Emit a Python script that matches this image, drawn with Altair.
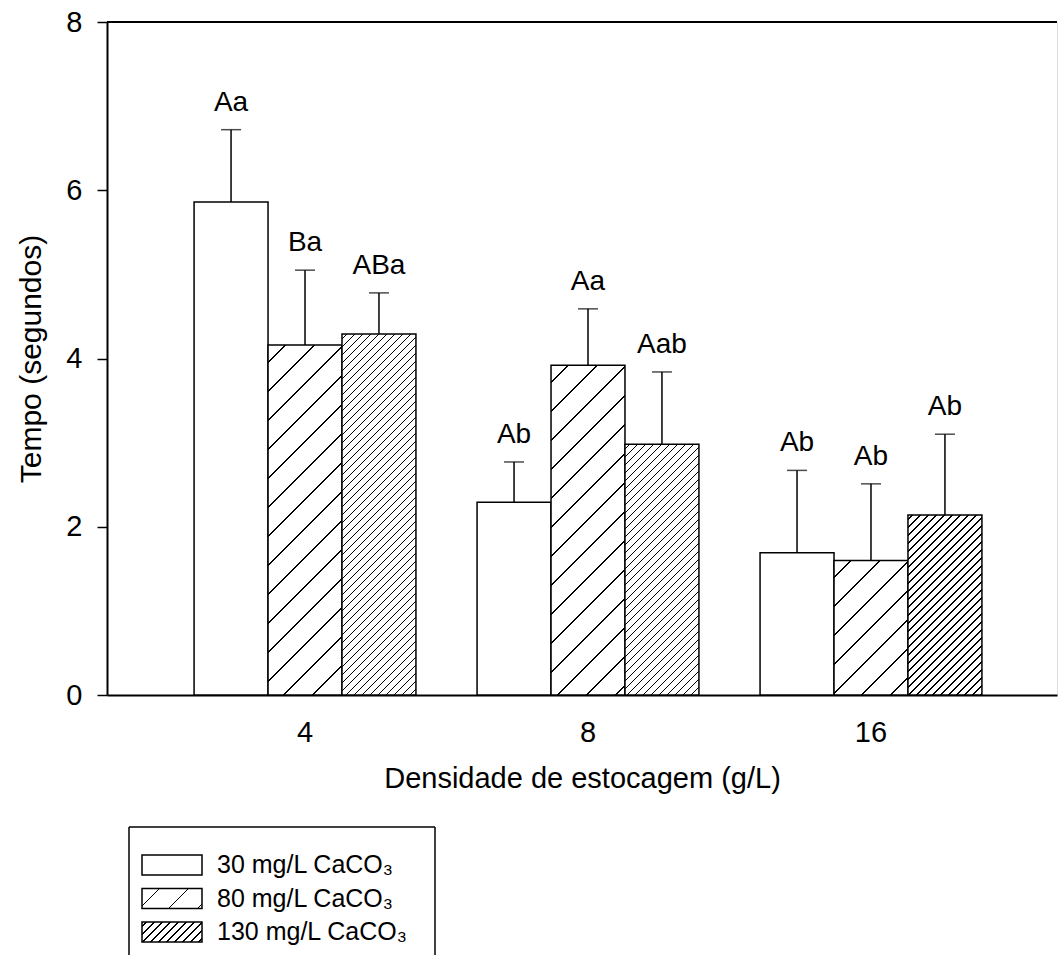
import altair as alt

# ---------------- data ----------------
density = ["4", "8", "16"]
series = ["30 mg/L CaCO₃", "80 mg/L CaCO₃", "130 mg/L CaCO₃"]
mean_30 = [5.86, 2.29, 1.69]
mean_80 = [4.16, 3.92, 1.60]
mean_130 = [4.29, 2.98, 2.14]
sd_30 = [0.86, 0.48, 0.98]
sd_80 = [0.89, 0.67, 0.91]
sd_130 = [0.49, 0.86, 0.96]
letters_30 = ["Aa", "Ab", "Ab"]
letters_80 = ["Ba", "Aa", "Ab"]
letters_130 = ["ABa", "Aab", "Ab"]

means = [mean_30, mean_80, mean_130]
sds = [sd_30, sd_80, sd_130]
letters = [letters_30, letters_80, letters_130]

# ---------------- layout / style ----------------
FONT = "Liberation Sans"
W, H = 950, 673
YMAX = 8
P_IN, P_OUT, ALIGN = 0.216, 0.2865, 0.537
step = W / (len(density) - P_IN + 2 * P_OUT)
bar_w = step * (1 - P_IN) / len(series)
px_per_unit = H / YMAX
hatch_spacing = [None, 29, 8]


def hatch(w, h, spacing, lw=1.2):
    """45-degree hatch as a linear gradient with hard stops (bbox units)."""
    if spacing is None or h <= 0:
        return "white"
    L = w + h
    a, b = 1.0 / h, 1.0 / w
    c = (a + b) / (a * a + b * b)
    half = lw * 2 ** 0.5 / 2
    stops = [{"offset": 0, "color": "white"}]
    s = spacing * 0.6
    while s < L:
        o1 = max(0.0, (s - half) / L)
        o2 = min(1.0, (s + half) / L)
        stops += [
            {"offset": o1, "color": "white"},
            {"offset": o1, "color": "black"},
            {"offset": o2, "color": "black"},
            {"offset": o2, "color": "white"},
        ]
        s += spacing
    stops.append({"offset": 1, "color": "white"})
    return {"gradient": "linear", "x1": 0, "y1": 0, "x2": c * a, "y2": c * b, "stops": stops}


rows = []
for gi, d in enumerate(density):
    for si, s in enumerate(series):
        m = means[si][gi]
        rows.append({
            "density": d,
            "series": s,
            "mean": m,
            "upper": m + sds[si][gi],
            "letter": letters[si][gi],
            "pattern": hatch(bar_w, m * px_per_unit, hatch_spacing[si]),
        })
data = alt.Data(values=rows)

x_enc = alt.X(
    "density:N",
    sort=density,
    scale=alt.Scale(paddingInner=P_IN, paddingOuter=P_OUT, align=ALIGN),
    axis=alt.Axis(
        title="Densidade de estocagem (g/L)",
        labelAngle=0, ticks=False, tickSize=0, labelPadding=23,
        labelFontSize=29, titleFontSize=29, titlePadding=17,
        titleFontWeight="normal",
        domainWidth=2, domainColor="black",
    ),
)
xo_enc = alt.XOffset("series:N", sort=series, scale=alt.Scale(paddingInner=0, paddingOuter=0))
y_scale = alt.Scale(domain=[0, YMAX], nice=False)
y_enc = alt.Y(
    "mean:Q",
    scale=y_scale,
    axis=alt.Axis(
        title="Tempo (segundos)", values=[0, 2, 4, 6, 8], format="d", grid=False,
        tickSize=10, tickWidth=1.5, tickColor="black", labelPadding=15,
        labelFontSize=29, titleFontSize=30, titlePadding=19,
        titleFontWeight="normal",
        domainWidth=2, domainColor="black",
    ),
)

base = alt.Chart(data)
bars = base.mark_bar(stroke="black", strokeWidth=1.5).encode(
    x=x_enc, xOffset=xo_enc, y=y_enc, fill=alt.Fill("pattern:N", scale=None)
)
err = base.mark_rule(color="black", strokeWidth=1.5).encode(
    x=x_enc, xOffset=xo_enc, y=alt.Y("mean:Q", scale=y_scale), y2="upper:Q"
)
cap = base.mark_tick(color="black", thickness=1.5, size=20).encode(
    x=x_enc, xOffset=xo_enc, y=alt.Y("upper:Q", scale=y_scale)
)
labels = base.mark_text(fontSize=28, dy=-19, baseline="alphabetic", font=FONT, color="black").encode(
    x=x_enc, xOffset=xo_enc, y=alt.Y("upper:Q", scale=y_scale), text="letter:N"
)
one = alt.Data(values=[{"k": 0}])
top_line = alt.Chart(one).mark_rule(color="black", strokeWidth=2).encode(
    x=alt.value(0), x2=alt.value(W), y=alt.value(0)
)
main = alt.layer(bars, err, cap, labels, top_line)

# ---------------- legend (drawn below the plot) ----------------
leg_rows = [{"series": s, "pattern": hatch(60, 20, hatch_spacing[i])} for i, s in enumerate(series)]
leg = alt.Chart(alt.Data(values=leg_rows))
ly = alt.Y(
    "series:N", sort=series, axis=None,
    scale=alt.Scale(domain=series, range=[833, 920], paddingInner=0.403, paddingOuter=0),
)
swatch = leg.mark_rect(stroke="black", strokeWidth=1.5).encode(
    x=alt.value(35), x2=alt.value(95), y=ly, fill=alt.Fill("pattern:N", scale=None)
)
leg_text = leg.mark_text(align="left", baseline="middle", fontSize=25, font=FONT, color="black").encode(
    x=alt.value(110), y=ly, text="series:N"
)
frame_top = alt.Chart(one).mark_rule(color="black", strokeWidth=1.5).encode(
    x=alt.value(22), x2=alt.value(328), y=alt.value(805)
)
frame_left = alt.Chart(one).mark_rule(color="black", strokeWidth=1.5).encode(
    x=alt.value(22), y=alt.value(805), y2=alt.value(933)
)
frame_right = alt.Chart(one).mark_rule(color="black", strokeWidth=1.5).encode(
    x=alt.value(328), y=alt.value(805), y2=alt.value(933)
)
legend = alt.layer(swatch, leg_text, frame_top, frame_left, frame_right)

chart = (
    alt.layer(main, legend)
    .resolve_scale(y="independent")
    .properties(width=W, height=H, padding={"left": 16, "top": 8, "right": 0, "bottom": 0})
    .configure_view(stroke=None)
    .configure_axis(labelFont=FONT, titleFont=FONT, labelColor="black", titleColor="black")
    .configure(background="white")
)

chart.save("out.html", embed_options={"renderer": "svg", "actions": False})
